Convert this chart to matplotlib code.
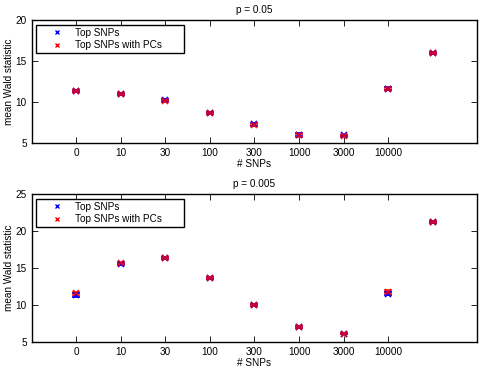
import numpy as np
import matplotlib.pyplot as plt
from matplotlib.lines import Line2D

labels = ['0', '10', '30', '100', '300', '1000', '3000', '10000']
pos = np.arange(9)

# p = 0.05
top_snps_05 = [11.3, 10.9, 10.2, 8.7, 7.25, 6.0, 5.9, 11.6, 16.0]
top_pcs_05 = [11.3, 10.9, 10.15, 8.7, 7.15, 5.9, 5.85, 11.55, 15.95]
err_snps_05 = [0.15, 0.12, 0.12, 0.12, 0.15, 0.2, 0.12, 0.15, 0.12]
err_pcs_05 = [0.15, 0.12, 0.12, 0.12, 0.15, 0.2, 0.12, 0.15, 0.12]

# p = 0.005
top_snps_005 = [11.3, 15.5, 16.3, 13.6, 10.0, 7.0, 6.1, 11.5, 21.2]
top_pcs_005 = [11.55, 15.65, 16.35, 13.6, 10.0, 7.0, 6.1, 11.8, 21.2]
err_snps_005 = [0.25, 0.15, 0.12, 0.12, 0.1, 0.1, 0.1, 0.2, 0.12]
err_pcs_005 = [0.25, 0.15, 0.12, 0.12, 0.1, 0.1, 0.1, 0.2, 0.12]

plt.rcParams['font.family'] = ['Liberation Sans', 'DejaVu Sans']
plt.rcParams['font.size'] = 7.2

fig = plt.figure(figsize=(4.82, 3.74), dpi=100)
ax1 = fig.add_axes([0.066, 0.618, 0.924, 0.329])
ax2 = fig.add_axes([0.066, 0.086, 0.924, 0.395])


def panel(ax, a, ea, b, eb, title, ylim, yticks, leg_top):
    ax.errorbar(pos, a, yerr=ea, fmt='x', color='#0000ff', ms=4, mew=1.2,
                elinewidth=0.8, capsize=3)
    ax.errorbar(pos, b, yerr=eb, fmt='x', color='#ff0000', ms=4, mew=1.2,
                elinewidth=0.8, capsize=3, alpha=0.85)
    ax.set_xlim(-1, 9)
    ax.set_ylim(*ylim)
    ax.set_xticks(pos[:8])
    ax.set_xticklabels(labels)
    ax.set_yticks(yticks)
    ax.tick_params(direction='in', top=True, right=True, length=4, width=0.6)
    for s in ax.spines.values():
        s.set_linewidth(1.0)
    ax.set_title(title, fontsize=7.2, pad=5)
    ax.set_xlabel('# SNPs', labelpad=1)
    ax.set_ylabel('mean Wald statistic', labelpad=1)
    handles = [Line2D([], [], ls='none', marker='x', color='#0000ff', ms=3.5, mew=1),
               Line2D([], [], ls='none', marker='x', color='#ff0000', ms=3.5, mew=1)]
    leg = ax.legend(handles, ['Top SNPs', 'Top SNPs with PCs'], loc='upper left',
                    bbox_to_anchor=(0.009, leg_top, 0.333, 0.0), mode='expand',
                    handlelength=3.6, borderaxespad=0, fancybox=False,
                    edgecolor='k', framealpha=1, handletextpad=0.05,
                    borderpad=0.3, labelspacing=0.25)
    leg.get_frame().set_linewidth(1.0)


panel(ax1, top_snps_05, err_snps_05, top_pcs_05, err_pcs_05,
      'p = 0.05', (5, 20), [5, 10, 15, 20], 0.96)
panel(ax2, top_snps_005, err_snps_005, top_pcs_005, err_pcs_005,
      'p = 0.005', (5, 25), [5, 10, 15, 20, 25], 0.97)

fig.savefig('out.png', dpi=100)
